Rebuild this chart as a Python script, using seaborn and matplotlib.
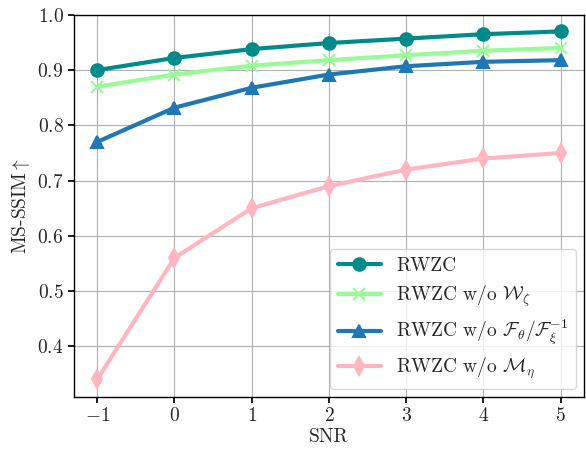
# MS-SSIM vs SNR — ablation curves
import pandas as pd
import matplotlib.pyplot as plt
import seaborn as sns

# ── Data ─────────────────────────────────────
snr = [-1, 0, 1, 2, 3, 4, 5]
rwzc = [0.900, 0.922, 0.938, 0.949, 0.957, 0.965, 0.970]
wo_w = [0.870, 0.892, 0.908, 0.918, 0.927, 0.935, 0.940]
wo_f = [0.770, 0.832, 0.868, 0.892, 0.907, 0.915, 0.918]
wo_m = [0.340, 0.560, 0.650, 0.690, 0.720, 0.740, 0.750]

labels = [
    'RWZC',
    r'RWZC w/o $\mathcal{W}_\zeta$',
    r'RWZC w/o $\mathcal{F}_\theta/\mathcal{F}_\xi^{-1}$',
    r'RWZC w/o $\mathcal{M}_\eta$',
]
series = [rwzc, wo_w, wo_f, wo_m]
colors = ['#008B8B', '#98FB98', '#1f77b4', '#FFB6C1']
markers = ['o', 'x', '^', 'd']

# ── Style ────────────────────────────────────
sns.set_theme(style='ticks')
plt.rcParams['font.family'] = 'serif'
plt.rcParams['font.serif'] = ['cmr10']
plt.rcParams['mathtext.fontset'] = 'cm'
plt.rcParams['axes.formatter.use_mathtext'] = True
plt.rcParams['axes.unicode_minus'] = True

fig = plt.figure(figsize=(5.86, 4.5), dpi=100)
ax = fig.add_axes([0.1263, 0.118, 0.870, 0.849])

for vals, lab, col, mk in zip(series, labels, colors, markers):
    sns.lineplot(
        x=snr, y=vals, ax=ax,
        color=col, marker=mk, label=lab,
        linewidth=3, markersize=9,
        markeredgecolor=col, markeredgewidth=1.5
    )

ax.set_ylim(0.3085, 1.0)
ax.set_xticks(snr)
ax.set_yticks([0.4, 0.5, 0.6, 0.7, 0.8, 0.9, 1.0])
ax.grid(True, color='#b0b0b0', linewidth=0.8)
ax.set_xlabel('SNR', fontsize=14, labelpad=2)
ax.set_ylabel(r'MS-SSIM$\uparrow$', fontsize=14, labelpad=4)
ax.tick_params(labelsize=14, color='black', length=4)
for s in ax.spines.values():
    s.set_color('black')
    s.set_linewidth(1)

ax.legend(loc='lower right', fontsize=14, frameon=True,
          handlelength=2.2, borderaxespad=0.4,
          labelspacing=0.45)

plt.savefig('out.png', dpi=100)
